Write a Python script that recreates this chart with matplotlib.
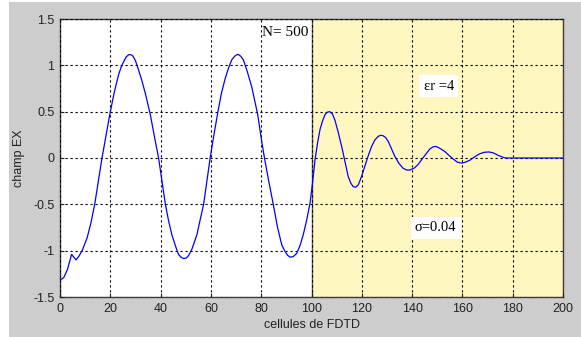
import matplotlib
matplotlib.use("Agg")
import matplotlib.pyplot as plt
from matplotlib.patches import Rectangle

# Data
x_cells = [0.0, 1.5, 3.0, 4.6, 5.5, 6.4, 7.5, 8.8, 10.8, 12.3, 13.8, 15.2, 16.7, 18.3,
           19.8, 21.5, 23.3, 24.3, 25.3, 26.3, 27.3, 28.2, 29.0, 30.0, 31.0, 32.4,
           33.9, 35.9, 37.9, 39.2, 41.9, 43.2, 44.5, 45.8, 47.1, 48.1, 49.1, 50.2,
           51.2, 52.5, 54.4, 57.1, 59.7, 61.2, 62.8, 64.2, 65.7, 67.0, 68.3, 69.5,
           70.7, 71.8, 72.9, 74.5, 76.3, 78.6, 80.2, 81.3, 83.0, 84.8, 86.5, 88.2,
           89.5, 90.5, 91.5, 92.7, 94.1, 95.5, 96.7, 98.0, 99.4, 100.4, 101.4, 102.4,
           103.4, 104.4, 105.4, 106.3, 107.3, 108.3, 109.3, 110.6, 112.0, 113.3,
           114.6, 115.6, 116.6, 117.6, 118.6, 119.9, 121.2, 122.5, 123.9, 125.2,
           126.5, 127.5, 128.5, 129.5, 130.5, 131.8, 133.1, 134.8, 136.4, 137.8,
           139.1, 140.8, 142.4, 144.0, 145.7, 147.0, 148.3, 149.3, 150.3, 151.6,
           153.0, 154.6, 156.3, 158.0, 159.6, 161.2, 162.9, 165.0, 166.9, 168.8,
           170.6, 172.3, 174.1, 175.7, 177.2, 200.0]
ex_field = [-1.32, -1.29, -1.20, -1.04, -1.07, -1.10, -1.06, -1.00, -0.86, -0.70,
            -0.50, -0.26, 0.00, 0.24, 0.47, 0.70, 0.90, 0.98, 1.04, 1.09, 1.115,
            1.115, 1.10, 1.05, 0.97, 0.85, 0.70, 0.47, 0.18, 0.00, -0.50, -0.68,
            -0.83, -0.94, -1.04, -1.07, -1.085, -1.08, -1.05, -0.98, -0.83, -0.50,
            0.00, 0.25, 0.50, 0.70, 0.86, 0.97, 1.06, 1.10, 1.12, 1.10, 1.06, 0.93,
            0.76, 0.47, 0.18, 0.00, -0.25, -0.50, -0.75, -0.94, -1.01, -1.05, -1.07,
            -1.065, -1.03, -0.94, -0.83, -0.68, -0.49, -0.27, -0.02, 0.16, 0.31,
            0.40, 0.47, 0.495, 0.50, 0.475, 0.41, 0.28, 0.125, -0.04, -0.20, -0.27,
            -0.31, -0.315, -0.29, -0.20, -0.09, 0.02, 0.125, 0.195, 0.233, 0.245,
            0.24, 0.22, 0.18, 0.10, 0.02, -0.06, -0.11, -0.13, -0.13, -0.11, -0.07,
            -0.01, 0.05, 0.095, 0.12, 0.125, 0.115, 0.095, 0.07, 0.03, -0.01,
            -0.045, -0.055, -0.045, -0.025, 0.015, 0.046, 0.062, 0.065, 0.055, 0.03,
            0.012, 0.0, 0.0]
x_ticks = [0, 20, 40, 60, 80, 100, 120, 140, 160, 180, 200]
y_ticks = [-1.5, -1, -0.5, 0, 0.5, 1, 1.5]
y_ticklabels = ["-1.5", "-1", "-0.5", "0", "0.5", "1", "1.5"]
interface_x = 100
label_n = "N= 500"
label_eps = "εr =4"
label_sigma = "σ=0.04"

W, H = 581, 337
fig = plt.figure(figsize=(W / 100, H / 100), dpi=100)
fig.patch.set_facecolor("white")
bg = Rectangle((9 / W, 0), 1 - 9 / W, (H - 2) / H,
               transform=fig.transFigure, facecolor="#cdcdcd",
               edgecolor="none", zorder=-10)
fig.patches.append(bg)

ax = fig.add_axes([60 / W, 1 - 297 / H, (563 - 60) / W, (297 - 19) / H])
ax.set_zorder(5)
ax.set_facecolor("white")
ax.axvspan(interface_x, 200, facecolor="#fff7bf", edgecolor="none", zorder=0)
ax.axvline(interface_x, color="#555555", lw=1.0, zorder=1)

ax.plot(x_cells, ex_field, color="#0000ff", lw=0.9, zorder=3)

ax.set_xlim(0, 200)
ax.set_ylim(-1.5, 1.5)
ax.set_xticks(x_ticks)
ax.set_yticks(y_ticks)
ax.set_yticklabels(y_ticklabels)
ax.grid(True, color="black", linestyle=(0, (2, 2.5)), lw=0.8, zorder=2)
ax.set_axisbelow(False)
ax.tick_params(direction="in", length=3, width=0.8, colors="#222222",
               labelsize=9, pad=4, top=False, right=False)
for lab in ax.get_xticklabels() + ax.get_yticklabels():
    lab.set_fontfamily("Liberation Sans")
    lab.set_color("#222222")
for s in ax.spines.values():
    s.set_color("#3c3c3c")
    s.set_linewidth(1.0)

ax.set_xlabel("cellules de FDTD", fontsize=9, family="Liberation Sans",
              color="#222222", labelpad=3)
ax.set_ylabel("champ EX", fontsize=9, family="Liberation Sans",
              color="#222222", labelpad=6)

ax.text(80.3, 1.353, label_n, family="Liberation Serif", fontsize=11,
        ha="left", va="center", zorder=4)
ax.text(150.6, 0.775, label_eps, family="Liberation Serif", fontsize=10.5,
        ha="center", va="center", zorder=4,
        bbox=dict(facecolor="white", edgecolor="none", pad=3))
ax.text(149.4, -0.753, label_sigma, family="Liberation Serif", fontsize=10.5,
        ha="center", va="center", zorder=4,
        bbox=dict(facecolor="white", edgecolor="none", pad=3))

fig.savefig("out.png", dpi=100, facecolor=fig.get_facecolor())
